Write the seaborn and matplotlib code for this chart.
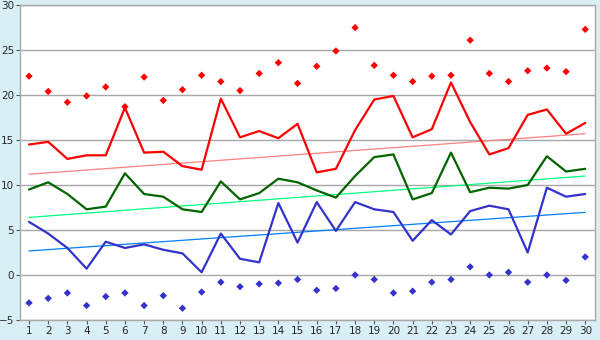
import pandas as pd
import matplotlib.pyplot as plt
import seaborn as sns

days = list(range(1, 31))

# series
red_line = [14.5, 14.8, 12.9, 13.3, 13.3, 18.6, 13.6, 13.7, 12.1, 11.7,
            19.6, 15.3, 16.0, 15.2, 16.8, 11.4, 11.8, 16.1, 19.5, 19.9,
            15.3, 16.2, 21.4, 17.0, 13.4, 14.1, 17.8, 18.4, 15.7, 16.9]
green_line = [9.5, 10.3, 9.0, 7.3, 7.6, 11.3, 9.0, 8.7, 7.3, 7.0,
              10.4, 8.4, 9.1, 10.7, 10.3, 9.4, 8.6, 11.0, 13.1, 13.4,
              8.4, 9.1, 13.6, 9.2, 9.7, 9.6, 10.0, 13.2, 11.5, 11.8]
blue_line = [5.9, 4.6, 3.0, 0.7, 3.7, 3.0, 3.4, 2.8, 2.4, 0.3,
             4.6, 1.8, 1.4, 8.0, 3.6, 8.1, 4.9, 8.1, 7.3, 7.0,
             3.8, 6.1, 4.5, 7.1, 7.7, 7.3, 2.5, 9.7, 8.7, 9.0]
red_points = [22.1, 20.4, 19.2, 19.9, 20.9, 18.7, 22.0, 19.4, 20.6, 22.2,
              21.5, 20.5, 22.4, 23.6, 21.3, 23.2, 24.9, 27.5, 23.3, 22.2,
              21.5, 22.1, 22.2, 26.1, 22.4, 21.5, 22.7, 23.0, 22.6, 27.3]
blue_points = [-3.1, -2.6, -2.0, -3.4, -2.4, -2.0, -3.4, -2.3, -3.7, -1.9,
               -0.8, -1.3, -1.0, -0.9, -0.5, -1.7, -1.5, 0.0, -0.5, -2.0,
               -1.8, -0.8, -0.5, 0.9, 0.0, 0.3, -0.8, 0.0, -0.6, 2.0]

# trend lines (start / end values)
trend_days = [1, 30]
red_trend = [11.2, 15.7]
green_trend = [6.4, 11.0]
blue_trend = [2.67, 6.96]

df = pd.DataFrame({'day': days, 'red': red_line, 'green': green_line,
                   'blue': blue_line, 'red_pts': red_points,
                   'blue_pts': blue_points})
trend = pd.DataFrame({'day': trend_days, 'red': red_trend,
                      'green': green_trend, 'blue': blue_trend})

sns.set_style('white')
plt.rcParams['font.family'] = ['DejaVu Sans']

fig = plt.figure(figsize=(6, 3.4), dpi=100, facecolor='#d9eff6')
ax = fig.add_axes([0.034, 0.059, 0.958, 0.926])
ax.set_facecolor('white')

ax.set_ylim(-5, 30)
ax.set_xlim(0.55, 30.52)
ax.set_yticks(range(-5, 31, 5))
ax.set_xticks(days)
ax.grid(axis='y', color='#a8a8a8', linewidth=1)
ax.set_axisbelow(True)

sns.lineplot(data=trend, x='day', y='red', color='#ff8080', linewidth=0.9, ax=ax)
sns.lineplot(data=trend, x='day', y='green', color='#00ff80', linewidth=0.9, ax=ax)
sns.lineplot(data=trend, x='day', y='blue', color='#0080ff', linewidth=0.9, ax=ax)

sns.lineplot(data=df, x='day', y='red', color='#ff0000', linewidth=1.6, ax=ax)
sns.lineplot(data=df, x='day', y='green', color='#006400', linewidth=1.6, ax=ax)
sns.lineplot(data=df, x='day', y='blue', color='#3333cc', linewidth=1.6, ax=ax)

sns.scatterplot(data=df, x='day', y='red_pts', color='#ff0000', marker='D',
                s=14, edgecolor='none', ax=ax)
sns.scatterplot(data=df, x='day', y='blue_pts', color='#3333cc', marker='D',
                s=14, edgecolor='none', ax=ax)

ax.set_xlabel('')
ax.set_ylabel('')
for s in ax.spines.values():
    s.set_color('#a8a8a8')
    s.set_linewidth(1)
ax.tick_params(axis='both', which='both', direction='out', length=3,
               color='#555555', labelsize=7.5, pad=1.5, left=True, bottom=True)

plt.savefig('out.png', dpi=100, facecolor=fig.get_facecolor())
